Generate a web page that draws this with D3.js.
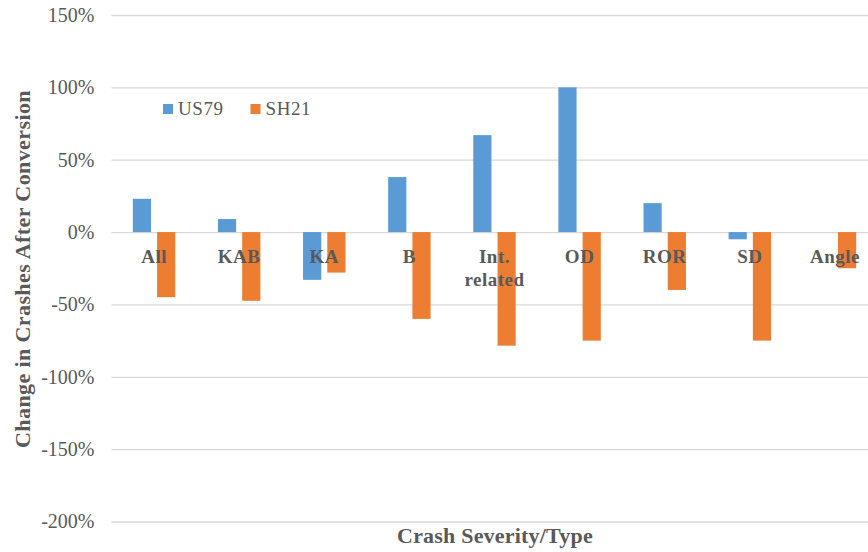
<!DOCTYPE html>
<html>
<head>
<meta charset="utf-8">
<script src="https://cdn.jsdelivr.net/npm/d3@7"></script>
<style>
  html, body { margin: 0; padding: 0; background: #fff; }
  svg { display: block; }
  svg text { font-family: "Liberation Serif", "Times New Roman", serif; }
</style>
</head>
<body>
<svg id="chart" width="868" height="552"></svg>
<script>
// Crash categories (label lines) and the two corridors' percent change
const categories = ["All", "KAB", "KA", "B", "Int. related", "OD", "ROR", "SD", "Angle"];
const categoryLines = [["All"], ["KAB"], ["KA"], ["B"], ["Int.", "related"], ["OD"], ["ROR"], ["SD"], ["Angle"]];
const seriesNames = ["US79", "SH21"];
const us79 = [0.23, 0.09, -0.33, 0.38, 0.67, 1.00, 0.20, -0.05, 0.00];
const sh21 = [-0.45, -0.475, -0.28, -0.60, -0.785, -0.75, -0.40, -0.75, -0.25];
const yTicks = [1.5, 1.0, 0.5, 0, -0.5, -1.0, -1.5, -2.0];
const colors = ["#5b9bd5", "#ed7d31"];

const rows = categories.map((c, i) => ({ cat: c, lines: categoryLines[i], vals: [us79[i], sh21[i]] }));

const svg = d3.select("#chart");
const textColor = "#595959";
const serif = "'Liberation Serif', 'Times New Roman', serif";
const plot = { left: 111.5, right: 877.5, top: 15, bottom: 521.5 };

const x0 = d3.scaleBand().domain(categories).range([plot.left, plot.right]).padding(0);
const x1 = d3.scaleBand().domain(seriesNames).range([0, x0.bandwidth()])
  .paddingInner(0.25).paddingOuter(0.88);
const y = d3.scaleLinear().domain([-2, 1.5]).range([plot.bottom, plot.top]);

// Percent labels with a plain hyphen for negatives
const pct = v => `${Math.round(v * 100)}%`;

// Gridlines and percent tick labels
const yAxis = d3.axisLeft(y).tickValues(yTicks)
  .tickFormat(pct)
  .tickSize(-(plot.right - plot.left)).tickPadding(17);
const gy = svg.append("g").attr("transform", `translate(${plot.left},0)`).call(yAxis)
  .attr("font-family", serif).attr("font-size", 20);
gy.select(".domain").remove();
gy.selectAll(".tick line").attr("stroke", "#d9d9d9").attr("stroke-width", 1.3);
gy.selectAll(".tick text").attr("fill", textColor);

// Bars
const groups = svg.append("g").selectAll("g").data(rows).join("g")
  .attr("transform", d => `translate(${x0(d.cat)},0)`);
groups.selectAll("rect")
  .data(d => d.vals.map((v, i) => ({ key: seriesNames[i], v, i })))
  .join("rect")
  .attr("x", d => x1(d.key))
  .attr("width", x1.bandwidth())
  .attr("y", d => y(Math.max(0, d.v)))
  .attr("height", d => Math.abs(y(d.v) - y(0)))
  .attr("fill", d => colors[d.i]);

// Category labels just below the zero line
const labels = svg.append("g").selectAll("text").data(rows).join("text")
  .attr("x", d => x0(d.cat) + x0.bandwidth() / 2)
  .attr("y", 263)
  .attr("text-anchor", "middle")
  .attr("fill", textColor)
  .style("font-size", "19px")
  .style("font-weight", "bold")
  .style("letter-spacing", "0.5px");
labels.selectAll("tspan").data(d => d.lines).join("tspan")
  .attr("x", function () { return d3.select(this.parentNode).attr("x"); })
  .attr("dy", (d, i) => i === 0 ? 0 : 23)
  .text(d => d);

// Legend
const legend = svg.append("g").attr("transform", "translate(163,104)");
const legendItems = legend.selectAll("g").data(seriesNames).join("g")
  .attr("transform", (d, i) => `translate(${i * 87.5},0)`);
legendItems.append("rect").attr("width", 10).attr("height", 10)
  .attr("fill", (d, i) => colors[i]);
legendItems.append("text").attr("x", 15).attr("y", 11)
  .attr("fill", textColor)
  .style("font-size", "19px")
  .style("letter-spacing", "0.6px")
  .text(d => d);

// Axis titles
svg.append("text")
  .attr("transform", `translate(30,${269}) rotate(-90)`)
  .attr("text-anchor", "middle")
  .attr("fill", textColor)
  .style("font-size", "22px")
  .style("font-weight", "bold")
  .style("letter-spacing", "0.4px")
  .text("Change in Crashes After Conversion");

svg.append("text")
  .attr("x", 495)
  .attr("y", 543)
  .attr("text-anchor", "middle")
  .attr("fill", textColor)
  .style("font-size", "22px")
  .style("font-weight", "bold")
  .style("letter-spacing", "0.2px")
  .text("Crash Severity/Type");
</script>
</body>
</html>
